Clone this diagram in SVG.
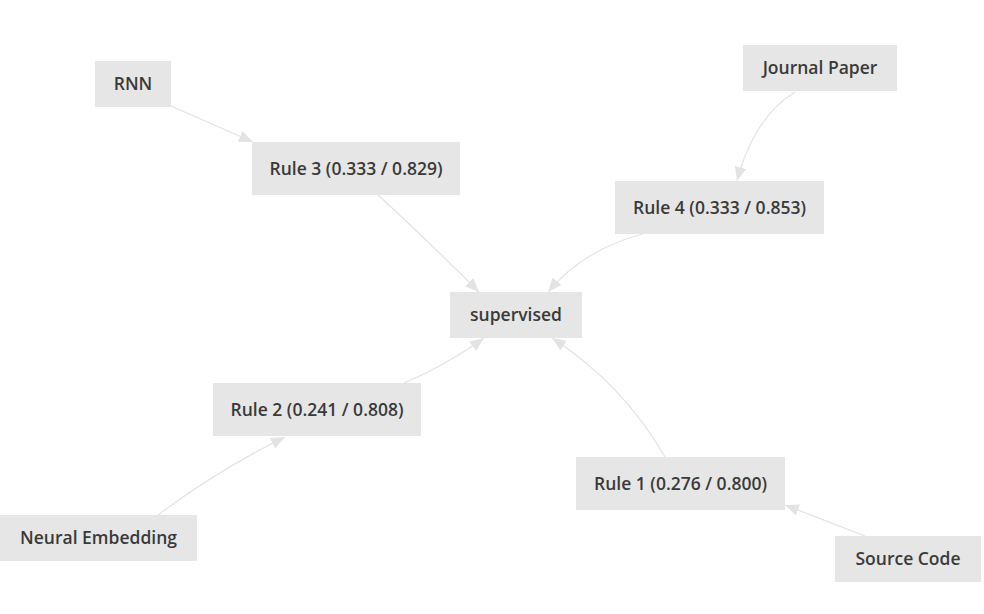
<svg xmlns="http://www.w3.org/2000/svg" width="984" height="614" viewBox="0 0 984 614">
<style>
.box{fill:#e6e6e6}
.lbl{font-family:"Open Sans","DejaVu Sans",sans-serif;font-size:17.5px;font-weight:600;fill:#3a3a3a;text-anchor:middle}
.edge{fill:none;stroke:#e3e3e3;stroke-width:1.2}
</style>
<defs>
<marker id="arr" markerUnits="userSpaceOnUse" markerWidth="14" markerHeight="12" refX="12" refY="5" orient="auto" viewBox="0 0 12 10">
<path d="M0,0 L12,5 L0,10 Z" fill="#e3e3e3"/>
</marker>
</defs>
<rect width="984" height="614" fill="#fff"/>
<g id="edges">
<path class="edge" d="M171,106 L253,142" marker-end="url(#arr)"/>
<path class="edge" d="M378,195 Q425,238 479,292" marker-end="url(#arr)"/>
<path class="edge" d="M795,92 Q754,117 737,181" marker-end="url(#arr)"/>
<path class="edge" d="M643,234 Q584,249 548,292" marker-end="url(#arr)"/>
<path class="edge" d="M404,383 Q445,366 484,338" marker-end="url(#arr)"/>
<path class="edge" d="M665,457 Q623,384 552,338" marker-end="url(#arr)"/>
<path class="edge" d="M158,515 Q218,470 285,437" marker-end="url(#arr)"/>
<path class="edge" d="M865,536 L785,505" marker-end="url(#arr)"/>
</g>
<g id="n-rnn"><rect class="box" x="95" y="61" width="76" height="46"/><text class="lbl" x="133" y="90">RNN</text></g>
<g id="n-rule3"><rect class="box" x="252" y="142" width="208" height="53"/><text class="lbl" x="356" y="174.5">Rule 3 (0.333 / 0.829)</text></g>
<g id="n-journal"><rect class="box" x="743" y="45" width="154" height="46"/><text class="lbl" x="820" y="74">Journal Paper</text></g>
<g id="n-rule4"><rect class="box" x="615" y="181" width="209" height="53"/><text class="lbl" x="719.5" y="213.5">Rule 4 (0.333 / 0.853)</text></g>
<g id="n-supervised"><rect class="box" x="450" y="292" width="132" height="46"/><text class="lbl" x="516" y="321">supervised</text></g>
<g id="n-rule2"><rect class="box" x="213" y="383" width="208" height="53"/><text class="lbl" x="317" y="415.5">Rule 2 (0.241 / 0.808)</text></g>
<g id="n-rule1"><rect class="box" x="576" y="457" width="209" height="53"/><text class="lbl" x="680.5" y="489.5">Rule 1 (0.276 / 0.800)</text></g>
<g id="n-neural"><rect class="box" x="0" y="515" width="197" height="46"/><text class="lbl" x="98.5" y="544">Neural Embedding</text></g>
<g id="n-source"><rect class="box" x="835" y="536" width="146" height="46"/><text class="lbl" x="908" y="565">Source Code</text></g>
</svg>
